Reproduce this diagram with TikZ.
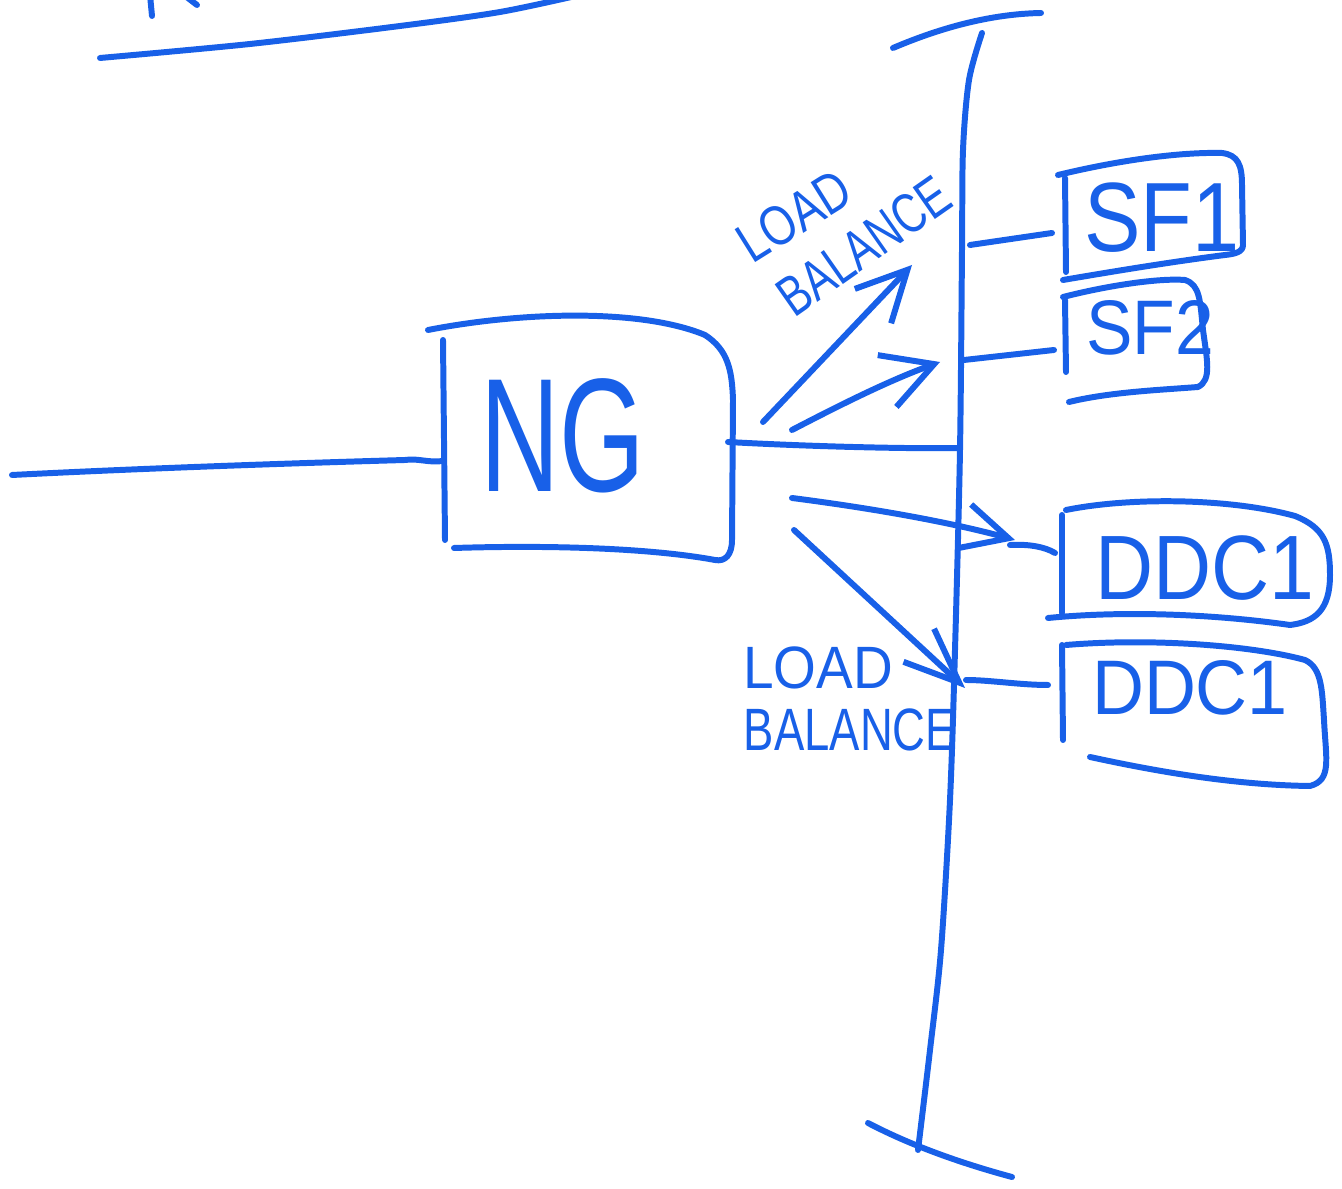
\documentclass[tikz,border=0pt]{standalone}
\usepackage{fontspec}
\setmainfont{Liberation Sans}
\usetikzlibrary{arrows.meta}
\definecolor{pen}{RGB}{24,96,232}
\tikzset{
  ink/.style={draw=pen, line width=1.7pt, line cap=round, line join=round},
  lbl/.style={text=pen, inner sep=0pt, font=\fontsize{17}{17}\selectfont},
  boxtxt/.style={text=pen, inner sep=0pt},
  barb/.style={-{Straight Barb[length=5mm,width=5mm,line width=1.7pt]}},
}
\begin{document}
\begin{tikzpicture}[x=0.01cm,y=-0.01cm]
\useasboundingbox (0,0) rectangle (1342,1189);
\clip (0,0) rectangle (1342,1189);

% cut-off text fragment and underline at top left
\draw[ink] (150,-5) -- (152,16);
\draw[ink] (184,-5) -- (197,5);
\draw[ink] plot[smooth] coordinates {(100,58) (250,44) (400,26) (500,12) (580,-5)};

% bus
\draw[ink] plot[smooth] coordinates {(982,33) (969,80) (963,150) (962,250) (960,450) (955,650) (950,800) (941,950) (930,1050) (918,1150)};
\draw[ink] (893,48) .. controls (940,28) and (990,14) .. (1041,13);
\draw[ink] (868,1123) .. controls (910,1145) and (960,1163) .. (1012,1177);
\coordinate (bSF1) at (970,245);
\coordinate (bSF2) at (964,360);
\coordinate (bNG) at (960,448);
\coordinate (bDDCa) at (1010,545);
\coordinate (bDDCb) at (966,680);

% NG box
\node[boxtxt, font=\fontsize{46}{46}\selectfont, xscale=0.68] (ng) at (563,436) {NG};
\draw[ink] (443,340) -- (445,540);
\draw[ink] (428,330) .. controls (520,312) and (640,308) .. (705,335)
  .. controls (728,350) and (732,370) .. (733,400) -- (732,540)
  .. controls (732,555) and (725,562) .. (715,560)
  .. controls (650,548) and (550,545) .. (454,548);
\coordinate (ngL) at (443,461);
\coordinate (ngR) at (728,442);

% input line
\coordinate (in) at (12,475);
\draw[ink] (in) .. controls (150,468) and (300,463) .. (405,460)
  .. controls (418,458) and (428,463) .. (ngL);

% NG output to bus
\draw[ink] (ngR) .. controls (800,446) and (900,449) .. (bNG);

% SF1
\node[boxtxt, font=\fontsize{28}{28}\selectfont, xscale=0.86] (sf1) at (1162,218) {SF1};
\draw[ink] (1065,178) -- (1066,272);
\draw[ink] (1058,175) .. controls (1120,160) and (1180,152) .. (1222,153)
  .. controls (1238,155) and (1242,165) .. (1242,185) -- (1243,245)
  .. controls (1243,252) and (1235,254) .. (1225,255)
  .. controls (1170,262) and (1110,272) .. (1063,280);
\coordinate (sf1L) at (1052,233);
\draw[ink] (bSF1) -- (sf1L);

% SF2
\node[boxtxt, font=\fontsize{22}{22}\selectfont, xscale=0.9] (sf2) at (1150,328) {SF2};
\draw[ink] (1065,300) -- (1066,372);
\draw[ink] (1063,297) .. controls (1110,285) and (1160,278) .. (1185,280)
  .. controls (1200,285) and (1200,300) .. (1203,330)
  .. controls (1207,360) and (1212,380) .. (1198,387)
  .. controls (1160,390) and (1110,392) .. (1069,402);
\coordinate (sf2L) at (1054,350);
\draw[ink] (bSF2) -- (sf2L);

% DDC1 (a)
\node[boxtxt, font=\fontsize{26}{26}\selectfont, xscale=0.88] (ddca) at (1205,568) {DDC1};
\draw[ink] (1062,515) -- (1062,613);
\draw[ink] (1066,510) .. controls (1130,497) and (1230,498) .. (1295,516)
  .. controls (1325,528) and (1330,545) .. (1330,575)
  .. controls (1330,610) and (1315,622) .. (1290,625)
  .. controls (1220,615) and (1130,610) .. (1048,618);
\coordinate (ddcaL) at (1055,553);
\draw[ink] (bDDCa) .. controls (1030,544) and (1045,547) .. (ddcaL);

% DDC1 (b)
\node[boxtxt, font=\fontsize{22}{22}\selectfont, xscale=0.93] (ddcb) at (1190,688) {DDC1};
\draw[ink] (1062,645) -- (1063,740);
\draw[ink] (1066,645) .. controls (1150,638) and (1250,645) .. (1305,660)
  .. controls (1322,668) and (1322,690) .. (1324,720)
  .. controls (1326,760) and (1332,780) .. (1310,786)
  .. controls (1230,785) and (1150,770) .. (1090,757);
\coordinate (ddcbL) at (1048,685);
\draw[ink] (bDDCb) .. controls (990,680) and (1020,685) .. (ddcbL);

% load-balance arrows (upper)
\coordinate (a1s) at (763,422);
\coordinate (a1e) at (912,265);
\draw[ink, barb] (a1s) -- (a1e);
\coordinate (a2s) at (792,430);
\coordinate (a2e) at (940,362);
\draw[ink, -{Straight Barb[length=5mm,width=5.5mm,line width=1.7pt]}] (a2s) .. controls (840,405) and (890,380) .. (a2e);

% load-balance arrows (lower)
\coordinate (a3s) at (792,498);
\coordinate (a3e) at (1015,540);
\draw[ink, -{Straight Barb[length=4.5mm,width=4.5mm,line width=1.7pt]}] (a3s) .. controls (870,508) and (950,522) .. (a3e);
\coordinate (a4s) at (794,530);
\coordinate (a4e) at (965,688);
\draw[ink, -{Straight Barb[length=5.5mm,width=4.5mm,line width=1.7pt]}] (a4s) -- (a4e);

% labels
\node[lbl, rotate=32, xscale=0.8, font=\fontsize{16}{16}\selectfont] (lbU1) at (794,216) {LOAD};
\node[lbl, rotate=35, xscale=0.75, font=\fontsize{16}{16}\selectfont] (lbU2) at (864,246) {BALANCE};
\node[lbl, xscale=0.92] (lbL1) at (818,668) {LOAD};
\node[lbl, xscale=0.76] (lbL2) at (850,730) {BALANCE};
\end{tikzpicture}
\end{document}
